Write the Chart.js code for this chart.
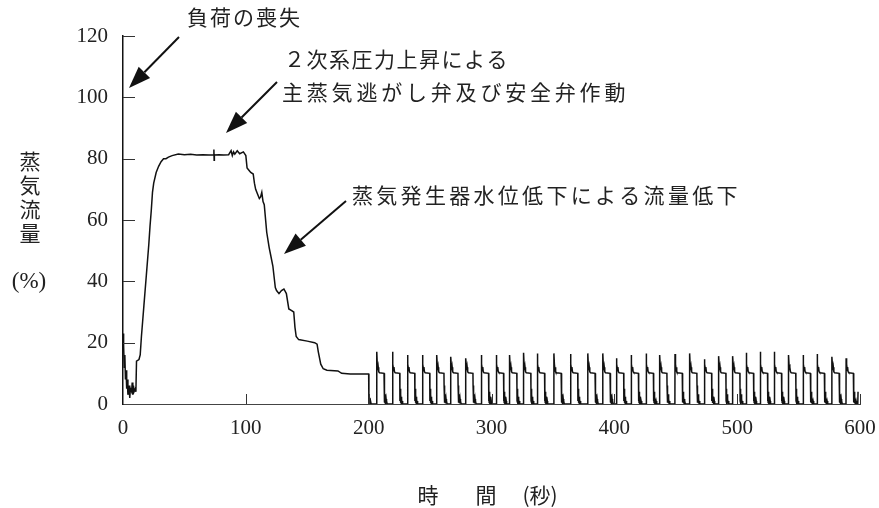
<!DOCTYPE html>
<html lang="ja">
<head>
<meta charset="utf-8">
<script src="https://cdn.jsdelivr.net/npm/chart.js@4.4.1/dist/chart.umd.min.js"></script>
<style>
    html, body { margin: 0; padding: 0; background: #fff; }
    #wrap { width: 879px; height: 508px; }
</style>
</head>
<body>
<div id="wrap"><canvas id="flowChart" width="879" height="508"></canvas></div>
<script>
// ── Data ──────────────────────────────────────────────────────
// 0-206 s: load loss, relief valve opening, SG level drop
const timeEarly = [
    0, 0.5, 1, 1.5, 2, 2.5, 3, 3.5, 4, 5, 5.5, 6, 7, 7.5, 8, 8.5, 9, 10, 10.5,
    11, 13, 14, 15, 16, 17, 19, 21, 22, 23, 24, 25, 27, 29, 31, 33, 35, 37, 40, 45,
    50, 55, 60, 65, 70, 73.8, 74, 74.2, 74.4, 78, 82, 86, 88, 89, 90, 91, 93, 95, 98,
    100, 101, 103, 104, 106, 107, 108, 110, 111, 112, 113, 114, 115, 117, 119, 120,
    122, 124, 125, 127, 129, 131, 133, 135, 137, 139, 140, 141, 143, 150, 156, 158,
    159, 161, 163, 166, 175, 178, 185, 200, 200.2, 200.5, 201, 201.5, 202
];
const flowEarly = [
    23, 19, 12, 16, 8, 11, 5, 8, 3, 6, 2, 5, 4, 7, 3, 6, 4, 5, 4,
    14, 14.5, 16, 22, 27, 32, 42, 52, 58, 63, 69, 72, 75.5, 77.5, 79, 80, 80, 80.5, 81, 81.5,
    81.3, 81.4, 81.2, 81.3, 81.2, 81.2, 83, 79.5, 81.2, 81.3, 81.2, 81.3, 82.6, 81, 82.2, 81.5, 82.6, 81.6, 82.2,
    81, 77, 76, 75.5, 75, 72, 70, 68, 67, 67.5, 69, 66, 65, 56, 51, 49,
    45, 38, 37, 36, 37, 37.5, 36, 31, 30.5, 30, 25, 22, 21, 20.5, 20, 19.5,
    17, 13, 11.5, 11, 10.8, 10, 9.8, 9.8, 0, 2, 0.3, 1, 0
];

// 206-600 s: periodic relief valve cycling
const cycleStart = [
    206.5, 219.3, 231.5, 243.7, 255.3, 266.7, 278.9, 291.6, 303.8, 314.6, 326.0,
    337.2, 350.7, 364.2, 378.3, 390.5, 401.6, 413.6, 425.8, 436.8, 449.3, 461.2,
    473.2, 484.8, 496.2, 507.3, 518.7, 530.1, 541.7, 553.6, 565.0, 577.0, 588.6
];
const cyclePeak = [
    17, 17, 16, 16, 16, 15.4, 14.9, 16, 16, 16, 16.7,
    16.5, 16.5, 16.3, 16.5, 16.5, 14.9, 16, 16.5, 16, 16.3, 16.5,
    14.6, 15.6, 15.6, 16.7, 17, 17, 16, 16, 16.3, 15.4, 14.9
];
// shape of one cycle: seconds after start / flow (null = that cycle's peak)
const shapeOffset = [
    0, 0.1, 0.5, 1.0, 1.3, 1.7, 2.3, 6.0, 6.1, 6.2, 6.35, 6.5, 6.65, 6.8,
    6.95, 7.1, 7.3, 7.5, 7.7, 7.9, 8.2, 8.5, 8.9
];
const shapeFlow = [
    0, null, 13, 11, 12, 10.5, 10.2, 10, 6, 1, 5, 0.5, 4, 0.4,
    3.2, 0.3, 2.4, 0.2, 1.6, 0.2, 1, 0.1, 0
];

const timeEnd = [598.2, 598.4, 598.8];
const flowEnd = [0, 4, 4];

const X_TICKS = [0, 100, 200, 300, 400, 500, 600];
const Y_TICKS = [0, 20, 40, 60, 80, 100, 120];

// ── Build points ─────────────────────────────────────────────
function buildPoints() {
    const pts = timeEarly.map((t, i) => ({ x: t, y: flowEarly[i] }));
    cycleStart.forEach((t0, c) => {
        shapeOffset.forEach((dt, k) => {
            const v = shapeFlow[k] === null ? cyclePeak[c] : shapeFlow[k];
            pts.push({ x: t0 + dt, y: v });
        });
    });
    timeEnd.forEach((t, i) => pts.push({ x: t, y: flowEnd[i] }));
    return pts;
}

// ── Fonts ─────────────────────────────────────────────────────
const NUM_FONT = "'Liberation Serif', 'DejaVu Serif', serif";
const JP_FONT  = "'Noto Sans CJK JP', sans-serif";

// ── Annotation / axis decoration plugin ──────────────────────
function drawArrow(ctx, x1, y1, x2, y2) {
    const ang = Math.atan2(y2 - y1, x2 - x1);
    const headLen = 22, headW = 8;
    const bx = x2 - headLen * Math.cos(ang);
    const by = y2 - headLen * Math.sin(ang);
    ctx.beginPath();
    ctx.moveTo(x1, y1);
    ctx.lineTo(bx, by);
    ctx.stroke();
    ctx.beginPath();
    ctx.moveTo(x2, y2);
    ctx.lineTo(bx + headW * Math.sin(ang), by - headW * Math.cos(ang));
    ctx.lineTo(bx - headW * Math.sin(ang), by + headW * Math.cos(ang));
    ctx.closePath();
    ctx.fill();
}

function drawText(ctx, text, x, y, font, spacing) {
    ctx.font = font;
    ctx.letterSpacing = (spacing || 0) + "px";
    ctx.fillText(text, x, y);
    ctx.letterSpacing = "0px";
}

const decorPlugin = {
    id: "decor",
    afterDraw(chart) {
        const { ctx, chartArea, scales } = chart;
        ctx.save();

        // inward tick marks
        ctx.strokeStyle = "#333";
        ctx.lineWidth = 1;
        Y_TICKS.slice(1).forEach(v => {
            const y = Math.round(scales.y.getPixelForValue(v)) + 0.5;
            ctx.beginPath();
            ctx.moveTo(chartArea.left, y);
            ctx.lineTo(chartArea.left + 12, y);
            ctx.stroke();
        });
        X_TICKS.slice(1).forEach(v => {
            const x = Math.round(scales.x.getPixelForValue(v)) + 0.5;
            ctx.beginPath();
            ctx.moveTo(x, chartArea.bottom);
            ctx.lineTo(x, chartArea.bottom - 10);
            ctx.stroke();
        });

        ctx.fillStyle = "#222";
        ctx.textBaseline = "middle";

        // y axis title (vertical)
        ctx.textAlign = "center";
        ["蒸", "気", "流", "量"].forEach((ch, i) => {
            drawText(ctx, ch, 30, 161 + i * 24, `21px ${JP_FONT}`);
        });
        drawText(ctx, "(%)", 29, 282, `23px ${NUM_FONT}`);

        // x axis title
        drawText(ctx, "時", 428, 495, `21px ${JP_FONT}`);
        drawText(ctx, "間", 486, 495, `21px ${JP_FONT}`);
        drawText(ctx, "(秒)", 540, 495, `21px ${JP_FONT}`);

        // annotations
        ctx.textAlign = "left";
        drawText(ctx, "負荷の喪失", 187, 17, `21px ${JP_FONT}`, 2);
        drawText(ctx, "２次系圧力上昇による", 284, 59, `21px ${JP_FONT}`, 1.5);
        drawText(ctx, "主蒸気逃がし弁及び安全弁作動", 282, 92, `21px ${JP_FONT}`, 3.8);
        drawText(ctx, "蒸気発生器水位低下による流量低下", 352, 195, `21px ${JP_FONT}`, 3.3);

        // arrows
        ctx.strokeStyle = "#111";
        ctx.fillStyle = "#111";
        ctx.lineWidth = 2;
        drawArrow(ctx, 179, 37, 129, 88);
        drawArrow(ctx, 277, 82, 226, 133);
        drawArrow(ctx, 346, 201, 284, 254);

        ctx.restore();
    }
};

// ── Chart ─────────────────────────────────────────────────────
const ctx = document.getElementById("flowChart").getContext("2d");
new Chart(ctx, {
    type: "line",
    data: {
        datasets: [{
            data: buildPoints(),
            borderColor: "#111",
            borderWidth: 1.5,
            pointRadius: 0,
            tension: 0,
            fill: false
        }]
    },
    options: {
        responsive: false,
        animation: false,
        events: [],
        layout: { padding: { top: 36, right: 19, left: 0, bottom: 0 } },
        plugins: {
            legend: { display: false },
            tooltip: { enabled: false }
        },
        scales: {
            x: {
                type: "linear",
                min: 0,
                max: 600,
                afterBuildTicks: s => { s.ticks = X_TICKS.map(v => ({ value: v })); },
                afterFit: s => { s.height = 104; s.paddingLeft = 0; s.paddingRight = 0; },
                ticks: {
                    font: { family: NUM_FONT, size: 21 },
                    color: "#222",
                    padding: 12,
                    maxRotation: 0
                },
                grid: { drawOnChartArea: false, drawTicks: false },
                border: { color: "#444", width: 1 }
            },
            y: {
                min: 0,
                max: 120,
                afterBuildTicks: s => { s.ticks = Y_TICKS.map(v => ({ value: v })); },
                afterFit: s => { s.width = 123; s.paddingTop = 0; s.paddingBottom = 0; },
                ticks: {
                    font: { family: NUM_FONT, size: 21 },
                    color: "#222",
                    padding: 15
                },
                grid: { drawOnChartArea: false, drawTicks: false },
                border: { color: "#111", width: 1.5 }
            }
        }
    },
    plugins: [decorPlugin]
});
</script>
</body>
</html>
